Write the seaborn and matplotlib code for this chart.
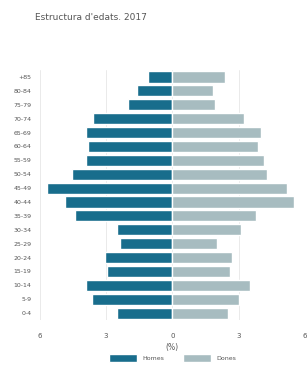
import matplotlib.pyplot as plt
import numpy as np
import pandas as pd
import seaborn as sns
from matplotlib.ticker import FixedLocator, FuncFormatter

# Estructura d'edats 2017 (% de població)
edats = ["+85", "80-84", "75-79", "70-74", "65-69", "60-64", "55-59", "50-54",
         "45-49", "40-44", "35-39", "30-34", "25-29", "20-24", "15-19",
         "10-14", "5-9", "0-4"]
homes = [1.1, 1.6, 2.0, 3.6, 3.9, 3.8, 3.9, 4.55, 5.7, 4.85, 4.4, 2.5,
         2.35, 3.05, 2.95, 3.9, 3.65, 2.5]
dones = [2.4, 1.85, 1.95, 3.25, 4.0, 3.9, 4.15, 4.3, 5.2, 5.5, 3.8, 3.1,
         2.0, 2.7, 2.6, 3.5, 3.0, 2.5]
ticks = [-6, -3, 0, 3, 6]

color_homes = "#186d8c"
color_dones = "#a7bcc0"

sns.set_theme(style="white")
plt.rcParams["font.family"] = ["DejaVu Sans"]

df = pd.DataFrame({"edat": edats, "Homes": -np.array(homes), "Dones": dones})

fig = plt.figure(figsize=(3.07, 3.65), dpi=100)
ax = fig.add_axes([0.13, 0.123, 0.863, 0.685])

sns.barplot(data=df, x="Homes", y="edat", color=color_homes, orient="h",
            width=0.8, ax=ax, label="Homes", saturation=1)
sns.barplot(data=df, x="Dones", y="edat", color=color_dones, orient="h",
            width=0.8, ax=ax, label="Dones", saturation=1)

ax.set_xlim(-6, 6)
ax.xaxis.set_major_locator(FixedLocator(ticks))
ax.xaxis.set_major_formatter(FuncFormatter(lambda v, p: f"{abs(v):g}"))
ax.grid(axis="x", color="#e6e6e6", linewidth=0.6)
ax.set_axisbelow(True)
for s in ax.spines.values():
    s.set_visible(False)
ax.tick_params(axis="y", labelsize=4.5, colors="#555555", length=0, pad=6)
ax.tick_params(axis="x", labelsize=5, colors="#555555", length=0, pad=9)
ax.set_ylabel("")
ax.set_xlabel("(%)", fontsize=5.5, color="#555555", labelpad=3)

fig.text(0.115, 0.945, "Estructura d'edats. 2017", fontsize=6.5, color="#555555")

ax.legend(loc="upper center", bbox_to_anchor=(0.5, -0.125), ncol=2,
          frameon=False, fontsize=4.5, handlelength=4.5, handleheight=1.6,
          columnspacing=3, labelcolor="#555555", borderaxespad=0)

fig.savefig("out.png", dpi=100, facecolor="white")
